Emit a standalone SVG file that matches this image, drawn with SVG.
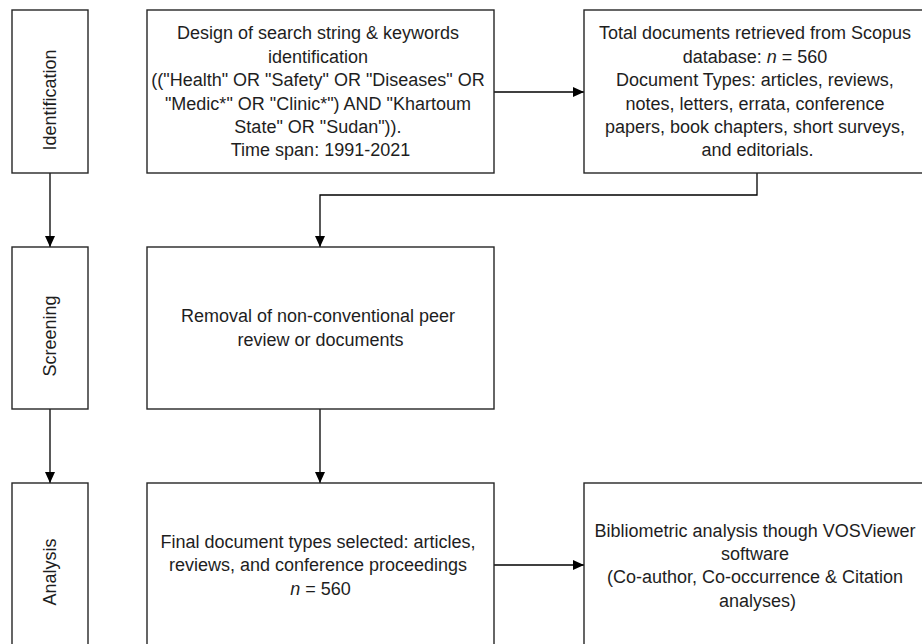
<svg xmlns="http://www.w3.org/2000/svg" width="922" height="644" viewBox="0 0 922 644">
<style>
.box{fill:#fff;stroke:#262626;stroke-width:1.4}
.t{font-family:"Liberation Sans",Arial,sans-serif;font-size:18px;fill:#1e1e1e;text-anchor:middle}
.c{fill:none;stroke:#000;stroke-width:1.3}
</style>
<defs>
<marker id="ah" viewBox="0 0 11 10" refX="11" refY="5" markerWidth="11" markerHeight="10" markerUnits="userSpaceOnUse" orient="auto">
<path d="M0,0 L11,5 L0,10 Z" fill="#000"/>
</marker>
</defs>
<rect width="922" height="644" fill="#fff"/>
<g id="connectors">
<path class="c" d="M50,173 V247" marker-end="url(#ah)"/>
<path class="c" d="M50,409 V483" marker-end="url(#ah)"/>
<path class="c" d="M494,92 H584" marker-end="url(#ah)"/>
<path class="c" d="M757,173 V195 H320 V247" marker-end="url(#ah)"/>
<path class="c" d="M320,409 V483" marker-end="url(#ah)"/>
<path class="c" d="M494,565 H584" marker-end="url(#ah)"/>
</g>
<g id="identification">
<rect class="box" x="12" y="10" width="76" height="163"/>
<text class="t" transform="translate(56,100) rotate(-90)">Identification</text>
</g>
<g id="screening">
<rect class="box" x="12" y="247" width="76" height="162"/>
<text class="t" transform="translate(56,336) rotate(-90)">Screening</text>
</g>
<g id="analysis">
<rect class="box" x="12" y="483" width="76" height="170"/>
<text class="t" transform="translate(56,572) rotate(-90)">Analysis</text>
</g>
<g id="design">
<rect class="box" x="147" y="10" width="347" height="163"/>
<text class="t">
<tspan x="320.5" y="39.3">Design of search string &amp; keywords</tspan>
<tspan x="320.5" y="62.7">identification</tspan>
<tspan x="320.5" y="86.1">(("Health" OR "Safety" OR "Diseases" OR</tspan>
<tspan x="320.5" y="109.5">"Medic*" OR "Clinic*") AND "Khartoum</tspan>
<tspan x="320.5" y="132.9">State" OR "Sudan")).</tspan>
<tspan x="320.5" y="156.3">Time span: 1991-2021</tspan>
</text>
</g>
<g id="total">
<rect class="box" x="584" y="10" width="347" height="163"/>
<text class="t">
<tspan x="757.5" y="39.3">Total documents retrieved from Scopus</tspan>
<tspan x="757.5" y="62.7">database: <tspan font-style="italic">n</tspan> = 560</tspan>
<tspan x="757.5" y="86.1">Document Types: articles, reviews,</tspan>
<tspan x="757.5" y="109.5">notes, letters, errata, conference</tspan>
<tspan x="757.5" y="132.9">papers, book chapters, short surveys,</tspan>
<tspan x="757.5" y="156.3">and editorials.</tspan>
</text>
</g>
<g id="removal">
<rect class="box" x="147" y="247" width="347" height="162"/>
<text class="t">
<tspan x="320.5" y="322.3">Removal of non-conventional peer</tspan>
<tspan x="320.5" y="345.7">review or documents</tspan>
</text>
</g>
<g id="final">
<rect class="box" x="147" y="483" width="347" height="170"/>
<text class="t">
<tspan x="320.5" y="548">Final document types selected: articles,</tspan>
<tspan x="320.5" y="571.4">reviews, and conference proceedings</tspan>
<tspan x="320.5" y="594.8"><tspan font-style="italic">n</tspan> = 560</tspan>
</text>
</g>
<g id="bibliometric">
<rect class="box" x="584" y="483" width="347" height="170"/>
<text class="t">
<tspan x="757.5" y="536.5">Bibliometric analysis though VOSViewer</tspan>
<tspan x="757.5" y="559.9">software</tspan>
<tspan x="757.5" y="583.3">(Co-author, Co-occurrence &amp; Citation</tspan>
<tspan x="757.5" y="606.7">analyses)</tspan>
</text>
</g>
</svg>
